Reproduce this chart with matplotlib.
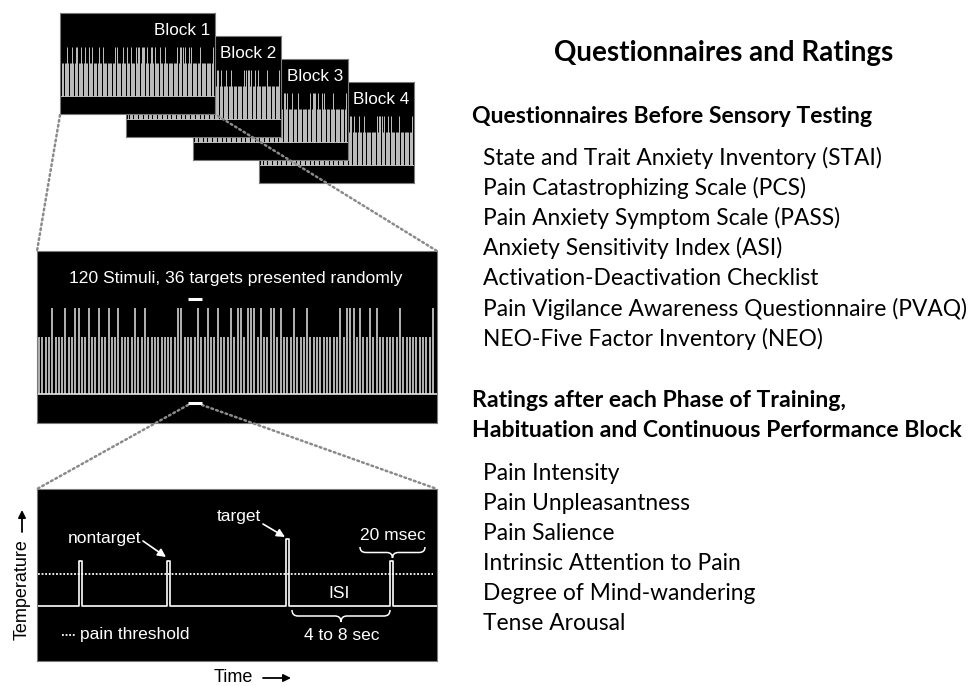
import matplotlib.pyplot as plt
from matplotlib.path import Path
from matplotlib.patches import PathPatch
import numpy as np

# ---- data ----
block_labels = ["Block 1", "Block 2", "Block 3", "Block 4"]
n_stimuli = 120
target_idx = [4, 8, 11, 12, 15, 18, 21, 24, 29, 32, 42, 43, 48, 51, 54, 58, 60, 61,
              63, 64, 65, 67, 70, 71, 73, 77, 81, 91, 93, 94, 95, 97, 100, 102, 109, 119]

# schematic temperature trace (seconds, threshold units)
pulse_times = [2.5, 7.6, 14.5, 20.5]
pulse_levels = [1.4, 1.4, 2.1, 1.4]
pulse_width = 0.17
pain_threshold = 1.0

title = "Questionnaires and Ratings"
before_heading = "Questionnaires Before Sensory Testing"
questionnaires = [
    "State and Trait Anxiety Inventory (STAI)",
    "Pain Catastrophizing Scale (PCS)",
    "Pain Anxiety Symptom Scale (PASS)",
    "Anxiety Sensitivity Index (ASI)",
    "Activation-Deactivation Checklist",
    "Pain Vigilance Awareness Questionnaire (PVAQ)",
    "NEO-Five Factor Inventory (NEO)",
]
ratings_heading = ["Ratings after each Phase of Training,",
                   "Habituation and Continuous Performance Block"]
ratings = [
    "Pain Intensity",
    "Pain Unpleasantness",
    "Pain Salience",
    "Intrinsic Attention to Pain",
    "Degree of Mind-wandering",
    "Tense Arousal",
]

LEFT = ["Liberation Sans", "DejaVu Sans"]
RIGHT = ["Lato", "DejaVu Sans"]

W, H = 972, 686
fig = plt.figure(figsize=(W / 100, H / 100), dpi=100)


def px_axes(left, top, w, h, z):
    return fig.add_axes([left / W, 1 - (top + h) / H, w / W, h / H], zorder=z)


def panel_style(ax):
    ax.set_facecolor("black")
    ax.set_xticks([])
    ax.set_yticks([])
    for s in ax.spines.values():
        s.set_color("#7a7a7a")
        s.set_linewidth(0.8)


stim = np.arange(n_stimuli)
is_target = np.isin(stim, target_idx)

# ---- stacked blocks ----
for i, lab in enumerate(block_labels):
    ax = px_axes(60 + 66.4 * i, 13 + 23 * i, 155, 101, z=5 - i)
    panel_style(ax)
    ax.set_xlim(-1.6, n_stimuli - 1 + 1.6)
    ax.set_ylim(0, 101)
    ax.vlines(stim, 18, np.where(is_target, 67, 51), color="#c2c2c2", lw=0.7)
    ax.axhline(18, color="#d0d0d0", lw=0.6)
    ax.text(0.97, 0.83, lab, transform=ax.transAxes, ha="right", va="center",
            color="white", fontsize=12.3, family=LEFT)

# ---- one block, 120 stimuli ----
ax = px_axes(37, 251, 400, 172, z=3)
panel_style(ax)
pitch = 394 / 119
ax.set_xlim(-2 / pitch, 119 + 4 / pitch)
ax.set_ylim(0, 172)
ax.vlines(stim, 29, np.where(is_target, 115, 86), color="#d2d2d2", lw=1.2)
ax.axhline(29, color="#e6e6e6", lw=1.2)

# ---- temperature trace ----
ax = px_axes(37, 489, 400, 172, z=3)
panel_style(ax)
px_per_s = 17.3
t_end = 400 / px_per_s
ax.set_xlim(0, t_end)
ax.set_ylim(-55 / 32, 117 / 32)
xs, ys = [0], [0]
for t, lv in zip(pulse_times, pulse_levels):
    xs += [t - pulse_width / 2] * 2 + [t + pulse_width / 2] * 2
    ys += [0, lv, lv, 0]
xs.append(t_end)
ys.append(0)
ax.plot(xs, ys, color="white", lw=1.2, solid_joinstyle="round")
ax.plot([0.06, t_end - 0.25], [pain_threshold] * 2, color="white", lw=1.3,
        ls=(0, (1, 1)))

# ---- overlay in pixel coordinates ----
ov = fig.add_axes([0, 0, 1, 1], zorder=10)
ov.set_xlim(0, W)
ov.set_ylim(H, 0)
ov.axis("off")

dot = dict(color="#8a8a8a", lw=1.8, ls=(0, (0.7, 1.3)), dash_capstyle="round")
ov.plot([60, 37], [115, 251], **dot)
ov.plot([218, 437], [116, 251], **dot)
ov.plot([188, 37], [405, 489], **dot)
ov.plot([202, 437], [405, 489], **dot)

wt = dict(color="white", family=LEFT)
ov.text(236, 279, "120 Stimuli, 36 targets presented randomly", ha="center",
        va="center", fontsize=12.6, **wt)
for yb in (299, 403):
    ov.plot([188, 202], [yb, yb], color="white", lw=2.2, solid_capstyle="butt")


def brace(x0, x1, y, d):
    xm = (x0 + x1) / 2
    r = min(6, (x1 - x0) / 8)
    h = d / 2
    verts = [(x0, y), (x0, y + h), (x0 + r, y + h), (xm - r, y + h),
             (xm, y + h), (xm, y + d), (xm, y + h), (xm + r, y + h),
             (x1 - r, y + h), (x1, y + h), (x1, y)]
    codes = [Path.MOVETO, Path.CURVE3, Path.CURVE3, Path.LINETO, Path.CURVE3,
             Path.CURVE3, Path.CURVE3, Path.CURVE3, Path.LINETO, Path.CURVE3,
             Path.CURVE3]
    ov.add_patch(PathPatch(Path(verts, codes), fc="none", ec="white", lw=1.1))


fs = 12.5
ov.text(105, 538, "nontarget", ha="center", va="center", fontsize=fs, **wt)
ov.text(239, 517, "target", ha="center", va="center", fontsize=fs, **wt)
arr = dict(arrowstyle="-|>", color="white", lw=1.2, mutation_scale=12,
           shrinkA=0, shrinkB=0)
ov.annotate("", xy=(166, 557), xytext=(143, 541), arrowprops=arr)
ov.annotate("", xy=(285, 537), xytext=(263, 524), arrowprops=arr)
ov.text(393, 536, "20 msec", ha="center", va="center", fontsize=fs, **wt)
brace(360, 425, 547, 11)
ov.text(339, 593, "ISI", ha="center", va="center", fontsize=fs, **wt)
brace(292, 390, 610, 12)
ov.text(342, 635, "4 to 8 sec", ha="center", va="center", fontsize=fs, **wt)
ov.plot([62, 76], [635, 635], color="white", lw=1.3, ls=(0, (1, 1)))
ov.text(80, 635, "pain threshold", ha="left", va="center", fontsize=fs, **wt)

# axis captions with drawn arrows
ov.text(22, 590, "Temperature", rotation=90, ha="center", va="center",
        fontsize=13, color="black", family=LEFT)
ov.text(233, 677, "Time", ha="center", va="center", fontsize=13,
        color="black", family=LEFT)
karr = dict(arrowstyle="-|>", color="black", lw=1.3, mutation_scale=11,
            shrinkA=0, shrinkB=0)
ov.annotate("", xy=(22, 510), xytext=(22, 532), arrowprops=karr)
ov.annotate("", xy=(291, 678), xytext=(263, 678), arrowprops=karr)

# ---- right column ----
ov.text(724, 60.7, title, ha="center", va="baseline", fontsize=20,
        fontweight="bold", family=RIGHT)
ov.text(472, 122.7, before_heading, ha="left", va="baseline", fontsize=16.6,
        fontweight="bold", family=RIGHT)
for k, q in enumerate(questionnaires):
    ov.text(483, 165 + 30.1 * k, q, ha="left", va="baseline", fontsize=16.4,
            family=RIGHT)
for k, line in enumerate(ratings_heading):
    ov.text(472, 406.7 + 30 * k, line, ha="left", va="baseline", fontsize=16.6,
            fontweight="bold", family=RIGHT)
for k, r in enumerate(ratings):
    ov.text(483, 480 + 30 * k, r, ha="left", va="baseline", fontsize=16.4,
            family=RIGHT)

fig.savefig("out.png", dpi=100, facecolor="white")
